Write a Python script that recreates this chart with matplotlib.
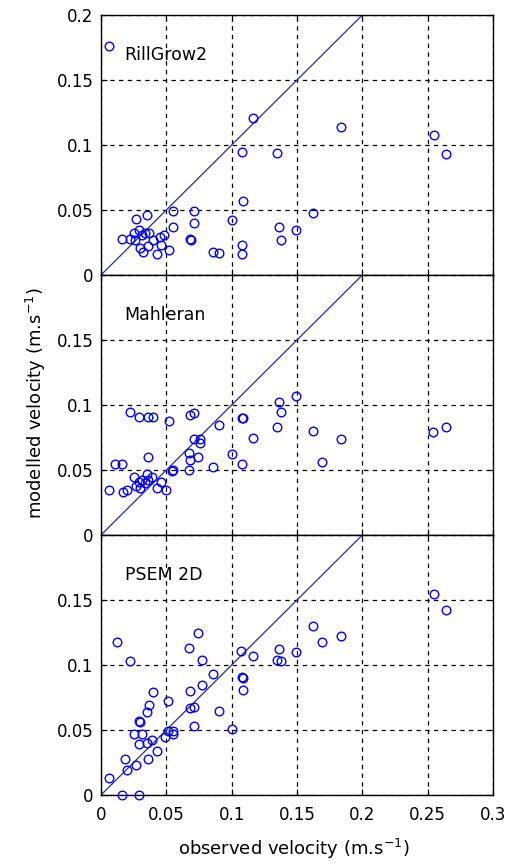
import matplotlib
matplotlib.use("Agg")
import matplotlib.pyplot as plt
import numpy as np

plt.rcParams['font.family'] = ['DejaVu Sans']
plt.rcParams['mathtext.fontset'] = 'dejavusans'

model_names = ["RillGrow2", "Mahleran", "PSEM 2D"]

rill_obs = [0.006, 0.116, 0.184, 0.255, 0.264, 0.108, 0.135, 0.109, 0.162, 0.055,
            0.071, 0.071, 0.100, 0.136, 0.149, 0.138, 0.068, 0.069, 0.086, 0.090,
            0.108, 0.108, 0.055, 0.052, 0.043, 0.048, 0.046, 0.027, 0.035, 0.016,
            0.022, 0.026, 0.030, 0.032, 0.029, 0.034, 0.037, 0.040, 0.031, 0.025,
            0.036, 0.045]
rill_mod = [0.176, 0.121, 0.114, 0.108, 0.093, 0.095, 0.094, 0.057, 0.048, 0.049,
            0.049, 0.040, 0.042, 0.037, 0.035, 0.027, 0.028, 0.027, 0.018, 0.017,
            0.023, 0.016, 0.037, 0.019, 0.016, 0.031, 0.023, 0.043, 0.046, 0.028,
            0.028, 0.027, 0.021, 0.018, 0.035, 0.032, 0.032, 0.027, 0.031, 0.032,
            0.022, 0.029]

mahl_obs = [0.149, 0.136, 0.138, 0.135, 0.162, 0.184, 0.254, 0.264, 0.108, 0.109,
            0.116, 0.100, 0.108, 0.169, 0.090, 0.068, 0.071, 0.022, 0.029, 0.036,
            0.040, 0.052, 0.071, 0.076, 0.076, 0.067, 0.074, 0.068, 0.086, 0.067,
            0.055, 0.054, 0.011, 0.016, 0.036, 0.006, 0.017, 0.020, 0.025, 0.029,
            0.031, 0.034, 0.036, 0.039, 0.030, 0.043, 0.050, 0.046, 0.035, 0.027]
mahl_mod = [0.107, 0.102, 0.095, 0.083, 0.080, 0.074, 0.079, 0.083, 0.090, 0.090,
            0.075, 0.062, 0.055, 0.056, 0.085, 0.092, 0.094, 0.095, 0.091, 0.091,
            0.091, 0.088, 0.074, 0.074, 0.071, 0.063, 0.060, 0.058, 0.052, 0.050,
            0.050, 0.049, 0.055, 0.055, 0.060, 0.035, 0.033, 0.035, 0.045, 0.041,
            0.042, 0.040, 0.042, 0.045, 0.036, 0.036, 0.035, 0.041, 0.047, 0.038]

psem_obs = [0.255, 0.264, 0.162, 0.184, 0.169, 0.012, 0.074, 0.067, 0.077, 0.022,
            0.107, 0.116, 0.136, 0.135, 0.138, 0.149, 0.086, 0.077, 0.068, 0.108,
            0.109, 0.109, 0.040, 0.037, 0.035, 0.051, 0.068, 0.071, 0.090, 0.029,
            0.030, 0.071, 0.100, 0.051, 0.055, 0.049, 0.025, 0.031, 0.029, 0.035,
            0.039, 0.043, 0.036, 0.027, 0.018, 0.020, 0.006, 0.016, 0.029, 0.055]
psem_mod = [0.155, 0.142, 0.130, 0.122, 0.118, 0.118, 0.125, 0.113, 0.104, 0.103,
            0.111, 0.107, 0.112, 0.104, 0.103, 0.110, 0.093, 0.085, 0.080, 0.091,
            0.090, 0.081, 0.079, 0.069, 0.064, 0.072, 0.067, 0.068, 0.065, 0.057,
            0.056, 0.053, 0.051, 0.049, 0.049, 0.045, 0.047, 0.047, 0.039, 0.040,
            0.042, 0.034, 0.028, 0.023, 0.028, 0.019, 0.013, 0.000, 0.000, 0.047]

obs_sets = [rill_obs, mahl_obs, psem_obs]
mod_sets = [rill_mod, mahl_mod, psem_mod]

x_ticks = [0, 0.05, 0.1, 0.15, 0.2, 0.25, 0.3]
x_tick_labels = ["0", "0.05", "0.1", "0.15", "0.2", "0.25", "0.3"]
y_ticks = [0, 0.05, 0.1, 0.15, 0.2]
y_labels_top = ["0", "0.05", "0.1", "0.15", "0.2"]
y_labels_other = ["0", "0.05", "0.1", "0.15", ""]

W, H = 513, 867
fig = plt.figure(figsize=(W / 100, H / 100), dpi=100)

left = 101 / W
width = 392 / W
ph = 260 / H
bottoms = [(H - 275) / H, (H - 535) / H, (H - 795) / H]

for i in range(3):
    ax = fig.add_axes([left, bottoms[i], width, ph])
    ax.set_xlim(0, 0.3)
    ax.set_ylim(0, 0.2)
    ax.plot([0, 0.2], [0, 0.2], color='#2a2a9a', lw=0.9, zorder=2)
    ax.plot(obs_sets[i], mod_sets[i], linestyle='none', marker='o', ms=6.2,
            mfc='none', mec='#0000ff', mew=1.0, zorder=3, clip_on=False)
    ax.set_xticks(x_ticks)
    ax.set_yticks(y_ticks)
    ax.set_yticklabels(y_labels_top if i == 0 else y_labels_other)
    if i == 2:
        ax.set_xticklabels(x_tick_labels)
    else:
        ax.set_xticklabels([])
    ax.grid(True, linestyle=(0, (3.5, 3.5)), color='black', lw=0.9)
    ax.tick_params(direction='in', length=4, width=0.8, labelsize=12,
                   top=True, right=True, colors='black')
    ax.tick_params(axis='y', pad=5.5)
    ax.tick_params(axis='x', pad=8)
    for s in ax.spines.values():
        s.set_linewidth(1.0)
    ax.text(0.018, 0.169, model_names[i], fontsize=12.5, va='center', ha='left')

fig.text(36 / W, 1 - 403 / H, r'modelled velocity (m.s$^{-1}$)', rotation=90,
         ha='center', va='center', fontsize=13)
fig.text(294 / W, 1 - 849 / H, r'observed velocity (m.s$^{-1}$)',
         ha='center', va='center', fontsize=13)

fig.savefig('out.png', dpi=100)
